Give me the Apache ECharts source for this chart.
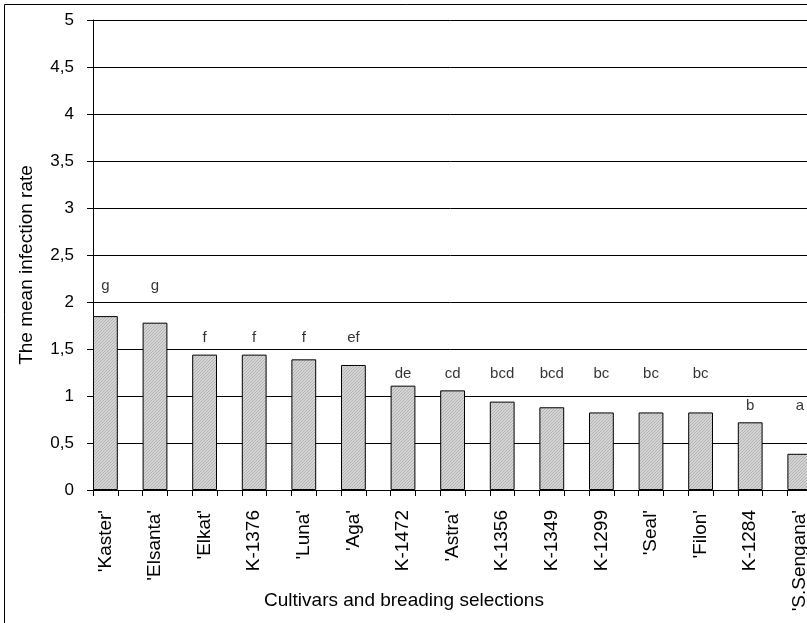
<!DOCTYPE html>
<html>
<head>
<meta charset="utf-8">
<script src="https://cdn.jsdelivr.net/npm/echarts@6/dist/echarts.min.js"></script>
<style>
html,body{margin:0;padding:0;background:#fff;}
#chart{width:807px;height:623px;}
</style>
</head>
<body>
<div id="chart"></div>
<script>
const categories = ["'Kaster'", "'Elsanta'", "'Elkat'", "K-1376", "'Luna'", "'Aga'", "K-1472", "'Astra'", "K-1356", "K-1349", "K-1299", "'Seal'", "'Filon'", "K-1284", "'S.Sengana'"];
const values = [1.85, 1.78, 1.44, 1.44, 1.39, 1.33, 1.11, 1.06, 0.94, 0.88, 0.825, 0.825, 0.825, 0.72, 0.385];
const letters = ['g', 'g', 'f', 'f', 'f', 'ef', 'de', 'cd', 'bcd', 'bcd', 'bc', 'bc', 'bc', 'b', 'a'];
const letterHeights = [2.17, 2.17, 1.615, 1.615, 1.615, 1.615, 1.24, 1.24, 1.24, 1.24, 1.24, 1.24, 1.24, 0.9, 0.9];
const yTitle = 'The mean infection rate';
const xTitle = 'Cultivars and breading selections';

// interleave each cultivar with an empty slot (bar + gap slots, as in the original)
const axisData = [], barData = [], letterData = [];
categories.forEach((c, i) => {
  axisData.push('c' + i, 'gap' + i);
  barData.push(values[i], '-');
  letterData.push(letterHeights[i], '-');
});

// hatched grey fill
const pc = document.createElement('canvas');
pc.width = 3; pc.height = 3;
const pctx = pc.getContext('2d');
pctx.fillStyle = '#d4d4d4';
pctx.fillRect(0, 0, 3, 3);
pctx.fillStyle = '#b4b4b4';
for (let k = 0; k < 3; k++) pctx.fillRect(k, 2 - k, 1, 1);

const FONT = '"Liberation Sans", Arial, sans-serif';
const chart = echarts.init(document.getElementById('chart'), null, {renderer: 'canvas'});
chart.setOption({
  animation: false,
  backgroundColor: '#fff',
  textStyle: {fontFamily: FONT, color: '#000'},
  grid: {left: 93, top: 20, width: 744, height: 470, containLabel: false, outerBoundsMode: 'none'},
  xAxis: {
    type: 'category',
    data: axisData,
    boundaryGap: true,
    axisLine: {lineStyle: {color: '#000', width: 1}},
    axisTick: {show: true, interval: 0, length: 6, lineStyle: {color: '#000'}},
    axisLabel: {
      interval: 0, rotate: 90, margin: 20,
      fontFamily: FONT, fontSize: 19, color: '#000',
      formatter: (v, i) => (i % 2 === 0 ? categories[i / 2] : '')
    },
    splitLine: {show: false}
  },
  yAxis: {
    type: 'value',
    min: 0, max: 5, interval: 0.5,
    axisLine: {show: true, lineStyle: {color: '#000', width: 1}},
    axisTick: {show: true, length: 6, lineStyle: {color: '#000'}},
    axisLabel: {
      margin: 19, fontFamily: FONT, fontSize: 17, color: '#000',
      formatter: v => String(v).replace('.', ',')
    },
    splitLine: {show: true, lineStyle: {color: '#000', width: 1}}
  },
  series: [
    {
      type: 'bar',
      data: barData,
      barCategoryGap: '0%',
      itemStyle: {color: {image: pc, repeat: 'repeat'}, borderColor: '#000', borderWidth: 1},
      z: 2
    },
    {
      type: 'scatter',
      data: letterData,
      symbolSize: 1,
      itemStyle: {color: 'rgba(0,0,0,0)'},
      label: {
        show: true, position: 'inside',
        fontFamily: FONT, fontSize: 15, color: '#000',
        formatter: p => letters[p.dataIndex / 2]
      },
      z: 3
    }
  ],
  graphic: [
    {
      type: 'rect', silent: true,
      shape: {x: 4.5, y: 4.5, width: 900, height: 800},
      style: {fill: 'none', stroke: '#000', lineWidth: 1}
    },
    {
      type: 'text', x: 27, y: 265, rotation: Math.PI / 2,
      style: {text: yTitle, font: '19px ' + FONT, fill: '#000', textAlign: 'center', textVerticalAlign: 'middle'}
    },
    {
      type: 'text', x: 404, y: 601,
      style: {text: xTitle, font: '19px ' + FONT, fill: '#000', textAlign: 'center', textVerticalAlign: 'middle'}
    }
  ]
});
</script>
</body>
</html>
